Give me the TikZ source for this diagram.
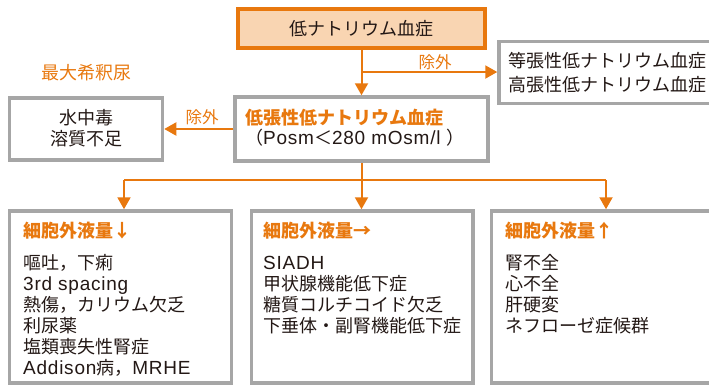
\documentclass[tikz,border=0pt]{standalone}
\usepackage{fontspec}
\setmainfont{Noto Sans CJK JP}
\newfontfamily\latfont[LetterSpace=4]{Liberation Sans}
\newcommand\LT[1]{{\fontsize{19}{21}\latfont #1}}
\usetikzlibrary{arrows.meta}
\definecolor{orng}{HTML}{E8780E}
\definecolor{peach}{HTML}{F9D5B2}
\definecolor{grayb}{HTML}{A6A6A6}
\definecolor{ink}{HTML}{231815}
\tikzset{
  txt/.style={font=\fontsize{18}{21}\selectfont, text=ink, inner sep=0pt, align=left},
  hdr/.style={font=\fontsize{18}{21}\selectfont\bfseries, text=orng, inner sep=0pt},
  lbl/.style={font=\fontsize{16.5}{20}\selectfont, text=orng, inner sep=0pt},
  graybox/.style={draw=grayb, line width=3.5pt, fill=white, inner sep=0pt},
  conn/.style={draw=orng, line width=2pt},
  arr/.style={conn, -{Triangle[length=12pt,width=13pt]}},
}
\begin{document}
\begin{tikzpicture}[x=1pt,y=-1pt]
\useasboundingbox (0,0) rectangle (709,384);
% boxes
\node[draw=orng, fill=peach, line width=3.5pt, minimum width=247pt, minimum height=39pt, inner sep=0pt,
      font=\fontsize{18}{21}\selectfont, text=ink] (top) at (361.5,28.5) {低ナトリウム血症};
\node[graybox, minimum width=221pt, minimum height=62pt] (rbox) at (609.5,72.5) {};
\node[graybox, minimum width=253pt, minimum height=64pt] (mid) at (361.5,129) {};
\node[graybox, minimum width=153pt, minimum height=62pt] (lbox) at (86,129) {};
\node[graybox, minimum width=222pt, minimum height=172pt] (bl) at (120.5,297) {};
\node[graybox, minimum width=221.5pt, minimum height=172pt] (bm) at (362.25,297) {};
\node[graybox, minimum width=228.5pt, minimum height=172pt] (br) at (605.75,297) {};
% texts
\node[txt, anchor=north west, font=\fontsize{18}{24}\selectfont] (rtext) at (508,52.5) {等張性低ナトリウム血症\\高張性低ナトリウム血症};
\node[txt, align=center] (ltext) at (86,128) {水中毒\\溶質不足};
\node[hdr, anchor=west] (mhdr) at (245,118) {低張性低ナトリウム血症};
\node[txt, anchor=west] (mposm) at (245,138) {（\LT{Posm}＜\LT{280 mOsm/l }）};
\node[lbl] (ex1) at (435,62) {除外};
\node[lbl] (ex2) at (202,117) {除外};
\node[lbl, font=\fontsize{18}{21}\selectfont] (maxd) at (86,73) {最大希釈尿};
\node[hdr, anchor=west] (h1) at (23,231) {細胞外液量↓};
\node[hdr, anchor=west] (h2) at (263,231) {細胞外液量→};
\node[hdr, anchor=west] (h3) at (505,231) {細胞外液量↑};
\node[txt, anchor=north west] (t1) at (23,254.5) {嘔吐，下痢\\\LT{3rd spacing}\\熱傷，カリウム欠乏\\利尿薬\\塩類喪失性腎症\\\LT{Addison}病，\LT{MRHE}};
\node[txt, anchor=north west] (t2) at (263,254.5) {\vphantom{国}\LT{SIADH}\\甲状腺機能低下症\\糖質コルチコイド欠乏\\下垂体・副腎機能低下症};
\node[txt, anchor=north west] (t3) at (505,254.5) {腎不全\\心不全\\肝硬変\\ネフローゼ症候群};
% connectors
\draw[arr] (top.south) -- (mid.north);
\coordinate (b1) at (361.5,72);
\draw[arr] (b1) -- (b1 -| rbox.west);
\draw[arr] (mid.west) -- (lbox.east);
\draw[arr] (mid.south) -- (mid.south |- bm.north);
\coordinate (hl) at (124,180);
\coordinate (hr) at (606,180);
\draw[conn] (hl) -- (hr);
\draw[arr] (hl) -- (hl |- bl.north);
\draw[arr] (hr) -- (hr |- br.north);
\end{tikzpicture}
\end{document}
